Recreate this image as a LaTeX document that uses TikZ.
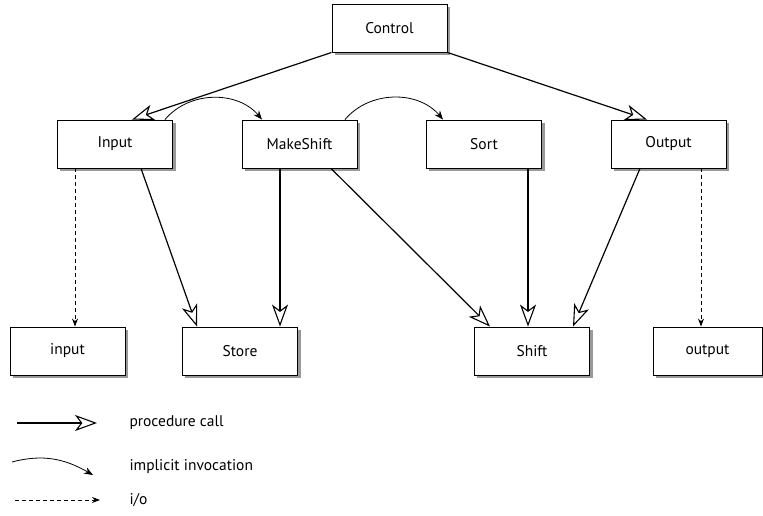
\documentclass[tikz,border=0pt]{standalone}
\usepackage{fontspec}
\setmainfont{PT Sans}
\usetikzlibrary{arrows.meta,backgrounds}

\begin{document}
\begin{tikzpicture}[x=1pt,y=1pt,
    box/.style={draw,fill=white,line width=0.9pt,minimum width=115pt,minimum height=48pt,inner sep=0pt,
        font=\fontsize{15.5}{18}\selectfont},
    boxshadow/.style={fill=black!40},
    call/.style={line width=1.2pt,-{Stealth[fill=white,length=22pt,width=16pt,inset=6pt,line width=1.1pt]}},
    inv/.style={line width=0.8pt,-{Stealth[length=9pt,width=7pt]}},
    io/.style={line width=0.8pt,dash pattern=on 4pt off 3pt,-{Stealth[length=8pt,width=6pt]}},
    lbl/.style={anchor=west,font=\fontsize{15.5}{18}\selectfont}]
    \useasboundingbox (0,0) rectangle (763,-516);

    \node[box] (ctl) at (389.5,-28) {Control};

    \foreach \n/\t/\x in {inp/Input/115,mks/MakeShift/299.5,srt/Sort/484,out/Output/668.5} {
        \node[box] (\n) at (\x,-144) {\t};
    }
    \foreach \n/\t/\x in {ind/input/67.5,sto/Store/240,shf/Shift/532} {
        \node[box] (\n) at (\x,-351) {\t};
    }
    \node[box,minimum width=109pt] (outd) at (707.5,-351) {output};

    \begin{scope}[on background layer]
        \foreach \n in {ctl,inp,mks,srt,out,ind,sto,shf,outd} {
            \fill[boxshadow] ([xshift=3pt,yshift=-3pt]\n.south west) rectangle ([xshift=3pt,yshift=-3pt]\n.north east);
        }
    \end{scope}

    \draw[call] (ctl.south west) -- ([xshift=17pt]inp.north);
    \draw[call] (ctl.south east) -- ([xshift=-21.5pt]out.north);
    \draw[call] ([xshift=26pt]inp.south) -- ([xshift=-43pt]sto.north);
    \draw[call] ([xshift=-19.5pt]mks.south) -- ([xshift=40pt]sto.north);
    \draw[call] ([xshift=31.5pt]mks.south) -- ([xshift=-42pt]shf.north);
    \draw[call] ([xshift=44pt]srt.south) -- ([xshift=-4pt]shf.north);
    \draw[call] ([xshift=-28.5pt]out.south) -- ([xshift=41pt]shf.north);

    \draw[inv] ([xshift=50pt]inp.north) to[out=50,in=130] ([xshift=-37.5pt]mks.north);
    \draw[inv] ([xshift=45.5pt]mks.north) to[out=50,in=130] ([xshift=-41pt]srt.north);

    \draw[io] ([xshift=-40pt]inp.south) -- ([xshift=7.5pt]ind.north);
    \draw[io] ([xshift=32.5pt]out.south) -- ([xshift=-6.5pt]outd.north);

    \coordinate (c1) at (17,-423);
    \coordinate (c2) at (97,-423);
    \coordinate (v1) at (12,-462);
    \coordinate (v2) at (93,-475);
    \coordinate (o1) at (15,-500);
    \coordinate (o2) at (100,-500);
    \draw[call] (c1) -- (c2);
    \draw[inv] (v1) to[out=15,in=150] (v2);
    \draw[io] (o1) -- (o2);
    \node[lbl] (lcall) at (126,-423) {procedure call};
    \node[lbl] (linv) at (126,-467) {implicit invocation};
    \node[lbl] (lio) at (126,-500) {i/o};

\end{tikzpicture}
\end{document}
